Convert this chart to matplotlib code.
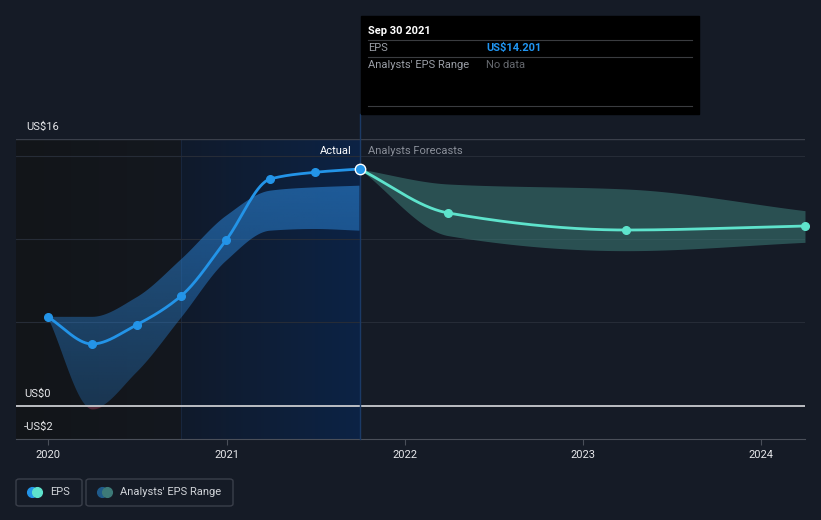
import numpy as np
import pandas as pd
import matplotlib
matplotlib.use("Agg")
import matplotlib.pyplot as plt
import matplotlib.dates as mdates
from matplotlib.colors import LinearSegmentedColormap, to_rgb
from matplotlib.patches import FancyBboxPatch, Rectangle
from matplotlib.lines import Line2D

# actual EPS (quarterly, trailing) and the historical analyst range
eps_dates = ["2019-12-31", "2020-03-31", "2020-06-30", "2020-09-30",
             "2020-12-31", "2021-03-31", "2021-06-30", "2021-09-30"]
eps_values = [5.33, 3.7, 4.85, 6.6, 9.95, 13.6, 14.0, 14.201]
hist_low = [5.33, -0.2, 2.0, 5.3, 8.7, 10.5, 10.6, 10.5]
hist_high = [5.33, 5.33, 6.5, 8.8, 11.4, 12.9, 13.1, 13.2]

# analyst forecasts
fc_dates = ["2021-09-30", "2022-03-31", "2023-03-31", "2024-03-31"]
fc_values = [14.201, 11.56, 10.54, 10.78]
fc_low = [14.201, 10.2, 9.3, 9.8]
fc_high = [14.201, 13.3, 13.0, 11.7]

year_ticks = ["2020", "2021", "2022", "2023", "2024"]

BG = "#151b26"
EPS_BLUE = "#2394e8"
FC_TEAL = "#5ee3cc"
W, H = 821, 520


def fx(x):
    return x / W


def fy(y):
    return 1 - y / H


def smooth(x, y, n=400):
    # monotone cubic (Fritsch-Carlson) for drawing curved lines
    x = np.asarray(x, float)
    y = np.asarray(y, float)
    h = np.diff(x)
    d = np.diff(y) / h
    m = np.zeros_like(y)
    m[0], m[-1] = d[0], d[-1]
    for i in range(1, len(y) - 1):
        if d[i - 1] * d[i] <= 0:
            m[i] = 0
        else:
            w1 = 2 * h[i] + h[i - 1]
            w2 = h[i] + 2 * h[i - 1]
            m[i] = (w1 + w2) / (w1 / d[i - 1] + w2 / d[i])
    xs = np.linspace(x[0], x[-1], n)
    idx = np.clip(np.searchsorted(x, xs) - 1, 0, len(h) - 1)
    t = (xs - x[idx]) / h[idx]
    h00 = 2 * t**3 - 3 * t**2 + 1
    h10 = t**3 - 2 * t**2 + t
    h01 = -2 * t**3 + 3 * t**2
    h11 = t**3 - t**2
    ys = (h00 * y[idx] + h10 * h[idx] * m[idx]
          + h01 * y[idx + 1] + h11 * h[idx] * m[idx + 1])
    return xs, ys


def gradient_fill(ax, xs, lo, hi, color, a_top, a_bot, z):
    poly = ax.fill_between(xs, lo, hi, facecolor="none", lw=0)
    rgb = to_rgb(color)
    arr = np.zeros((256, 1, 4))
    arr[:, 0, :3] = rgb
    arr[:, 0, 3] = np.linspace(a_top, a_bot, 256)
    im = ax.imshow(arr, extent=[xs[0], xs[-1], -2, 16], aspect="auto",
                   origin="upper", zorder=z, interpolation="bilinear")
    im.set_clip_path(poly.get_paths()[0], transform=ax.transData)


def main():
    plt.rcParams["font.family"] = ["Roboto", "DejaVu Sans"]
    fig = plt.figure(figsize=(W / 100, H / 100), dpi=100, facecolor=BG)
    ax = fig.add_axes([fx(16), 1 - 439 / H, (805 - 16) / W, (439 - 139) / H])
    ax.set_facecolor(BG)

    ed = mdates.date2num(pd.to_datetime(eps_dates))
    fd = mdates.date2num(pd.to_datetime(fc_dates))
    x0 = mdates.date2num(pd.Timestamp("2019-10-27"))
    x1 = mdates.date2num(pd.Timestamp("2024-03-31"))
    past = mdates.date2num(pd.Timestamp("2020-09-30"))

    # background shading
    dark = LinearSegmentedColormap.from_list("dk", ["#121519", "#14181f"])
    blue = LinearSegmentedColormap.from_list("bl", ["#101a2b", "#0c2345"])
    grad = np.linspace(0, 1, 256).reshape(1, -1)
    ax.imshow(grad, cmap=dark, extent=[x0, past, -2, 16], aspect="auto", zorder=0)
    ax.imshow(grad, cmap=blue, extent=[past, ed[-1], -2, 16], aspect="auto", zorder=0)
    ax.axvline(past, color="#17263d", lw=0.8, zorder=1)

    # grid
    for v in [15, 10, 5]:
        ax.axhline(v, color="#262c37", lw=0.8, zorder=1)
    ax.axhline(16, color="#3a3f4a", lw=1, zorder=1)

    # historical range band
    hx, hl = smooth(ed, hist_low)
    _, hh = smooth(ed, hist_high)
    gradient_fill(ax, hx, hl, hh, "#2a80d0", 0.68, 0.25, 2)
    ax.fill_between(hx, hl, np.minimum(hh, 0), where=hl < 0,
                    color="#6a2430", alpha=0.7, lw=0, zorder=2)
    ax.axhline(0, color="#c9cbcf", lw=1.3, zorder=3)

    # forecast band
    fxs, fl = smooth(fd, fc_low)
    _, fh = smooth(fd, fc_high)
    ax.fill_between(fxs, fl, fh, color="#3c7c78", alpha=0.55, lw=0, zorder=2)

    # lines
    sx, sy = smooth(ed, eps_values)
    ax.plot(sx, sy, color=EPS_BLUE, lw=2, zorder=4)
    ax.plot(ed[:-1], eps_values[:-1], "o", color=EPS_BLUE, ms=5.5, zorder=5)
    gx, gy = smooth(fd, fc_values)
    ax.plot(gx, gy, color=FC_TEAL, lw=2, zorder=4)
    ax.plot(fd[1:], fc_values[1:], "o", color=FC_TEAL, ms=5.5, zorder=5, clip_on=False)

    # divider line reaching up to the tooltip
    ax.plot([ed[-1], ed[-1]], [-2, 17.5], color="#1b3a66", lw=1, zorder=3, clip_on=False)
    ax.plot([ed[-1]], [eps_values[-1]], "o", color=EPS_BLUE, ms=7.5,
            mec="white", mew=1, zorder=6)

    ax.set_xlim(x0, x1)
    ax.set_ylim(-2, 16)

    # axes decoration
    for s in ["top", "right", "left"]:
        ax.spines[s].set_visible(False)
    ax.spines["bottom"].set_color("#4a4f59")
    ax.set_yticks([])
    ax.set_xticks(mdates.date2num(pd.to_datetime([y + "-01-01" for y in year_ticks])))
    ax.set_xticklabels(year_ticks)
    ax.tick_params(axis="x", colors="#4a4f59", labelcolor="#e6e7ea",
                   labelsize=8, length=4, pad=4)

    # y labels
    fig.text(fx(26), fy(127), "US$16", color="#e6e7ea", fontsize=8, va="center")
    fig.text(fx(24), fy(394), "US$0", color="#e6e7ea", fontsize=8, va="center")
    fig.text(fx(24), fy(427), "-US$2", color="#e6e7ea", fontsize=8, va="center")

    fig.text(fx(352), fy(151), "Actual", color="#ffffff", fontsize=8, ha="right", va="center")
    fig.text(fx(368), fy(151), "Analysts Forecasts", color="#8a8f99", fontsize=8, va="center")

    # tooltip
    fig.add_artist(Rectangle((fx(361), fy(114)), fx(699 - 361), (114 - 16) / H,
                             transform=fig.transFigure, color="#000000", zorder=10))
    for yy in [40, 57, 106]:
        fig.add_artist(Line2D([fx(368), fx(692)], [fy(yy), fy(yy)], color="#3a3c40",
                              lw=0.8, transform=fig.transFigure, zorder=11))
    fig.text(fx(368), fy(31), "Sep 30 2021", color="white", fontsize=8,
             fontweight="bold", va="center", zorder=12)
    fig.text(fx(368), fy(48), "EPS", color="#9a9ea6", fontsize=8, va="center", zorder=12)
    fig.text(fx(486), fy(48), "US$14.201", color="#2196f3", fontsize=8,
             fontweight="bold", va="center", zorder=12)
    fig.text(fx(368), fy(65), "Analysts' EPS Range", color="#9a9ea6", fontsize=8,
             va="center", zorder=12)
    fig.text(fx(486), fy(65), "No data", color="#65686e", fontsize=8, va="center", zorder=12)

    # legend
    items = [(16, 82, EPS_BLUE, FC_TEAL, "EPS", 50),
             (86, 233, "#1f5a8a", "#3d7a78", "Analysts' EPS Range", 120)]
    for left, right, c1, c2, label, tx in items:
        fig.add_artist(FancyBboxPatch((fx(left), fy(506)), fx(right - left), 27 / H,
                                      boxstyle="round,pad=0,rounding_size=0.004",
                                      transform=fig.transFigure, fc="none",
                                      ec="#3a3f4a", lw=1))
        fig.add_artist(Line2D([fx(left + 16)], [fy(492)], marker="o", ms=7, color=c1,
                              transform=fig.transFigure))
        fig.add_artist(Line2D([fx(left + 21)], [fy(492)], marker="o", ms=7, color=c2,
                              transform=fig.transFigure))
        fig.text(fx(tx), fy(492), label, color="#d0d3d8", fontsize=8, va="center")

    fig.savefig("out.png", dpi=100, facecolor=BG)
    plt.close("all")


if __name__ == "__main__":
    main()
